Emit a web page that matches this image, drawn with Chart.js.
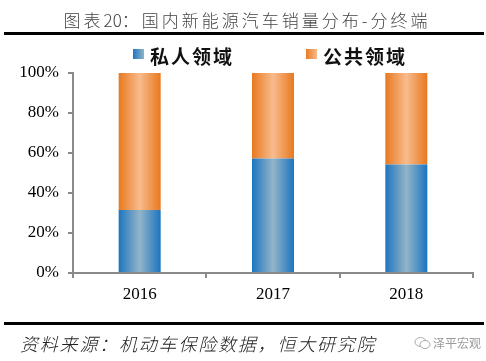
<!DOCTYPE html>
<html>
<head>
<meta charset="utf-8">
<script src="https://cdn.jsdelivr.net/npm/chart.js@4/dist/chart.umd.min.js"></script>
<style>
  body { margin: 0; background: #fff; }
  #page { position: relative; width: 486px; height: 361px; overflow: hidden; background: #fff; }
  #page canvas { position: absolute; left: 0; top: 0; }
  .cjk { font-family: "Noto Sans CJK SC", "Noto Sans", sans-serif; }
  #title { position: absolute; left: 4px; top: 10px; width: 486px; text-align: center;
           font-size: 17px; line-height: 20px; letter-spacing: 3px; color: #444; font-weight: 300; }
  #title .num { letter-spacing: 0; }
  .rule { position: absolute; left: 4px; width: 480px; height: 3px; background: #000; }
  .legend-item { position: absolute; top: 45px; font-size: 19px; line-height: 22px; font-weight: bold;
                 letter-spacing: 2px; color: #111; }
  .swatch { position: absolute; left: 0; top: 4px; width: 11px; height: 10px; }
  .legend-item span.txt { position: absolute; left: 17px; top: 0; white-space: nowrap; }
  #source { position: absolute; left: 20px; top: 333px; font-size: 18px; line-height: 20px;
            font-style: italic; letter-spacing: 1.8px; color: #222; font-weight: 300; white-space: nowrap; }
  #mark { position: absolute; left: 433px; top: 336px; font-size: 12px; line-height: 14px; color: #9a9a9a; white-space: nowrap; }
  #icon { position: absolute; left: 414px; top: 336px; }
</style>
</head>
<body>
<div id="page">
  <canvas id="barChart" width="486" height="361"></canvas>
  <div id="title" class="cjk">图表<span class="num">20</span>：国内新能源汽车销量分布-分终端</div>
  <div class="rule" style="top:32px"></div>
  <div class="legend-item cjk" style="left:133px">
    <div class="swatch" style="background:linear-gradient(90deg,#1f77c0,#8fb4c9)"></div>
    <span class="txt">私人领域</span>
  </div>
  <div class="legend-item cjk" style="left:306px">
    <div class="swatch" style="background:linear-gradient(90deg,#e97b25,#f8b98a)"></div>
    <span class="txt">公共领域</span>
  </div>
  <div class="rule" style="top:322px"></div>
  <div id="source" class="cjk">资料来源：机动车保险数据，恒大研究院</div>
  <svg id="icon" width="17" height="14" viewBox="0 0 17 14">
    <ellipse cx="6.5" cy="6" rx="5.5" ry="4.5" fill="none" stroke="#aaa" stroke-width="1"/>
    <ellipse cx="11" cy="8.5" rx="5" ry="4" fill="#fff" stroke="#aaa" stroke-width="1"/>
  </svg>
  <div id="mark" class="cjk">泽平宏观</div>
</div>

<script>
// share of NEV sales by end user (%)
const years = ["2016", "2017", "2018"];
const privateShare = [31.5, 57.2, 54.2]; // 私人领域
const publicShare = [68.5, 42.8, 45.8];  // 公共领域
const yTicks = [0, 20, 40, 60, 80, 100];

const BAR_PCT = 0.315;
const axisGray = "#8a8a8a";
const numFont = { family: "'Liberation Serif', 'Times New Roman', serif", size: 17 };

// horizontal shading: dark edges, light middle (cylinder look)
function barFill(edge, mid) {
  return (ctx) => {
    const chart = ctx.chart;
    const xs = chart.scales.x;
    if (!chart.chartArea || !xs) return edge;
    const cx = xs.getPixelForValue(ctx.dataIndex);
    const half = (xs.width / years.length) * BAR_PCT / 2;
    const g = chart.ctx.createLinearGradient(cx - half, 0, cx + half, 0);
    g.addColorStop(0, edge);
    g.addColorStop(0.5, mid);
    g.addColorStop(1, edge);
    return g;
  };
}

const myChart = new Chart(document.getElementById("barChart"), {
  type: "bar",
  data: {
    labels: years,
    datasets: [
      {
        label: "私人领域",
        data: privateShare,
        backgroundColor: barFill("#1d75bf", "#93b4c9"),
        borderWidth: 0,
        barPercentage: BAR_PCT,
        categoryPercentage: 1
      },
      {
        label: "公共领域",
        data: publicShare,
        backgroundColor: barFill("#e8791f", "#f8bb8d"),
        borderWidth: 0,
        barPercentage: BAR_PCT,
        categoryPercentage: 1
      }
    ]
  },
  options: {
    responsive: false,
    animation: false,
    layout: { padding: { top: 73, bottom: 58, left: 0, right: 13 } },
    plugins: {
      legend: { display: false },
      tooltip: { enabled: false }
    },
    scales: {
      x: {
        stacked: true,
        grid: { display: true, drawOnChartArea: false, drawTicks: true, tickLength: 5, color: axisGray, lineWidth: 2 },
        border: { display: true, color: axisGray, width: 2 },
        ticks: { font: numFont, color: "#000", padding: 6 },
        afterFit: (s) => { s.height = 30; }
      },
      y: {
        stacked: true,
        min: 0,
        max: 100,
        grid: { display: true, drawOnChartArea: false, drawTicks: true, tickLength: 5, color: axisGray, lineWidth: 2 },
        border: { display: true, color: axisGray, width: 2 },
        ticks: { font: numFont, color: "#000", padding: 9, callback: (v) => v + "%" },
        afterBuildTicks: (s) => { s.ticks = yTicks.map((v) => ({ value: v })); },
        afterFit: (s) => { s.width = 73; }
      }
    }
  }
});
</script>
</body>
</html>
